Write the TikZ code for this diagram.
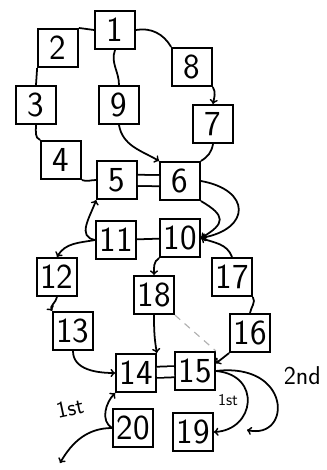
\documentclass[tikz,border=0pt]{standalone}
\usepackage{fontspec}
\usetikzlibrary{arrows}
\tikzset{box/.style={draw, line width=1.5pt, minimum width=1.2cm, minimum height=1.15cm, inner sep=0pt, font=\sffamily\fontsize{30}{32}\selectfont}}
\tikzset{note/.style={font=\sffamily\fontsize{20}{22}\selectfont}}

\begin{document}
\begin{tikzpicture}[x=0.03cm, y=0.03cm, line width=1.5pt, >=to]
  \useasboundingbox (0,0) rectangle (326,-470);

  % boxes, top to bottom
  \node[box] (n1) at (115,-30) {1};
  \node[box] (n2) at (58,-48) {2};
  \node[box] (n8) at (192,-67) {8};
  \node[box] (n3) at (36,-105) {3};
  \node[box] (n9) at (119,-105) {9};
  \node[box] (n7) at (213,-124) {7};
  \node[box] (n4) at (61,-160) {4};
  \node[box] (n5) at (117,-180) {5};
  \node[box] (n6) at (180,-181) {6};
  \node[box] (n11) at (116,-240) {11};
  \node[box] (n10) at (180,-238) {10};
  \node[box] (n12) at (57,-277) {12};
  \node[box] (n18) at (154,-295) {18};
  \node[box] (n17) at (232,-277) {17};
  \node[box] (n13) at (73,-331) {13};
  \node[box] (n16) at (250,-333) {16};
  \node[box] (n14) at (136,-373) {14};
  \node[box] (n15) at (195,-371) {15};
  \node[box] (n20) at (133,-428) {20};
  \node[box] (n19) at (193,-432) {19};
  \coordinate (back) at (247,-430);
  \coordinate (away) at (60,-463);

  % upper part
  \draw (n1.west) -- (n2.north east);
  \draw (n2.south west) -- (n3.north);
  \draw (n3.south) to[out=-90,in=160] (n4.north west);
  \draw (n4.south east) to[out=-20,in=180] (n5.west);
  \draw (n1.south) to[out=-110,in=90] (n9.north);
  \draw[->] (n9.south) to[out=-80,in=150] (n6.north west);
  \draw (n1.east) to[out=10,in=120] (n8.north west);
  \draw[->] (n8.south east) to[out=-60,in=80] (n7.north);
  \draw (n7.south) to[out=-100,in=30] (n6.north east);
  \draw[double distance=8pt] (n5) -- (n6);

  % middle part
  \draw[->] (n6.east) to[out=-10,in=10,looseness=2.3] (n10.east);
  \draw[->] (n6.south east) to[out=-30,in=30,looseness=2] (n10.east);
  \draw[->] (n11.west) to[out=170,in=-110,looseness=1.2] (n5.south west);
  \draw[->] (n11.west) to[out=190,in=60] (n12.north);
  \draw (n11) -- (n10);
  \draw[->] (n10.south west) to[out=-150,in=90] (n18.north);
  \draw[->] (n17.north) to[out=110,in=-20] (n10.east);
  \draw (n17.south east) to[out=-60,in=80] (n16.north);
  \draw[->] (n12.south) to[out=-100,in=120] (n13.north west);

  % lower part
  \draw[->] (n18.south) to[out=-90,in=100] (n14.north east);
  \draw[gray!60, line width=1pt, dash pattern=on 6pt off 5pt] (n18.south east) -- (n15.north east);
  \draw[->] (n16.south west) -- (n15.20);
  \draw[double distance=8pt] (n14) -- (n15);
  \draw[->] (n13.south) to[out=-90,in=180] (n14.west);
  \draw[->] (n20.west) to[out=150,in=-135] (n14.south west);
  \node[note, rotate=12] (first) at (70,-408) {1st};
  \draw[->] (n15.east) .. controls (262,-375) and (255,-430) .. (n19.east);
  \node[note, font=\sffamily\fontsize{14}{15}\selectfont] (firstb) at (228,-400) {1st};
  \draw[->] (n15.east) .. controls (292,-362) and (292,-440) .. (back);
  \node[note, font=\sffamily\fontsize{22}{24}\selectfont, anchor=west] (second) at (279,-376) {2nd};
  \draw[->] (n20.west) to[out=180,in=60] (away);
\end{tikzpicture}
\end{document}
